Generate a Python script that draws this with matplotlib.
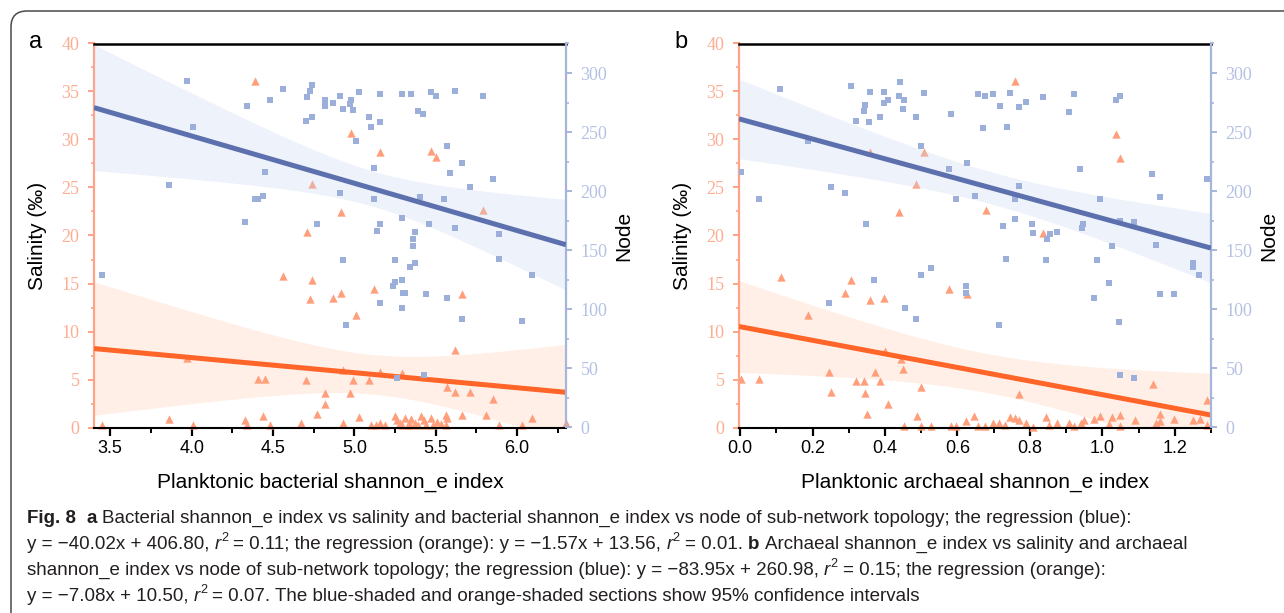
import numpy as np
import matplotlib
matplotlib.use("Agg")
import matplotlib.pyplot as plt
from matplotlib import font_manager
from matplotlib.patches import FancyBboxPatch
from matplotlib.transforms import IdentityTransform
from matplotlib.ticker import MultipleLocator, FormatStrFormatter

# ---- data ----
# panel a: planktonic bacterial shannon_e index
bac_sal_x = [4.39, 4.74, 4.71, 4.56, 4.74, 4.73, 4.87, 3.97, 4.41, 4.45,
             4.70, 4.82, 4.82, 4.77, 4.44, 3.86, 4.33, 3.45, 4.01, 4.34,
             4.48, 4.67, 4.93, 5.03, 4.98, 5.16, 5.47, 5.50, 4.92, 5.79,
             4.92, 5.12, 5.01, 5.66, 5.62, 4.93, 4.99, 5.09, 5.16, 5.29,
             4.97, 5.57, 5.62, 5.71, 5.85, 5.10, 5.13, 5.16, 5.19, 5.25,
             5.26, 5.28, 5.29, 5.31, 5.33, 5.34, 5.35, 5.37, 5.39, 5.41,
             5.43, 5.44, 5.47, 5.48, 5.51, 5.53, 5.56, 5.56, 5.57, 5.66,
             5.81, 5.89, 6.03, 6.09, 6.30]
bac_sal_y = [36.1, 25.4, 20.4, 15.8, 15.4, 13.4, 13.5, 7.2, 5.1, 5.1,
             4.9, 3.6, 2.45, 1.4, 1.25, 0.85, 0.8, 0.25, 0.25, 0.25,
             0.25, 0.5, 0.5, 1.1, 30.7, 28.7, 28.8, 28.2, 22.4, 22.7,
             14.0, 14.4, 11.7, 13.9, 8.1, 6.0, 4.9, 4.9, 5.8, 5.7,
             3.55, 4.25, 3.7, 3.65, 2.95, 0.25, 0.25, 0.5, 0.25, 1.2,
             0.8, 0.5, 0.25, 1.0, 0.3, 0.25, 0.9, 0.5, 0.25, 1.2,
             0.8, 0.3, 1.0, 0.25, 0.6, 0.4, 0.3, 1.3, 0.95, 1.3,
             1.3, 0.25, 0.25, 0.95, 0.5]
bac_node_x = [3.97, 4.01, 3.86, 4.34, 4.48, 4.56, 4.71, 4.73, 4.74, 4.82,
              4.82, 4.87, 4.91, 4.70, 4.74, 4.45, 4.39, 4.41, 4.44, 4.33,
              4.77, 4.91, 3.45, 4.93, 4.97, 4.98, 4.99, 5.03, 5.09, 5.10,
              5.16, 5.16, 5.01, 5.29, 5.35, 5.39, 5.42, 5.47, 5.50, 5.62,
              5.79, 5.57, 5.66, 5.59, 5.12, 5.71, 5.85, 5.12, 5.40, 5.55,
              5.29, 5.16, 5.14, 5.46, 5.62, 5.89, 5.37, 5.36, 5.36, 4.93,
              5.25, 5.37, 5.34, 5.89, 6.09, 5.29, 5.25, 5.24, 5.31, 5.30,
              5.44, 5.57, 5.16, 5.29, 5.66, 6.03, 4.95, 5.26, 5.43]
bac_node_y = [292.9, 254.2, 205.3, 272.5, 277.4, 286.7, 279.7, 284.4, 289.5, 277.4,
              271.7, 274.6, 280.8, 259.6, 263.2, 216.1, 193.2, 193.2, 196.3, 174.2,
              172.3, 198.8, 129.1, 269.5, 273.7, 277.4, 268.3, 283.6, 263.2, 254.2,
              282.5, 258.5, 242.6, 282.5, 282.5, 267.5, 265.5, 283.6, 280.8, 284.4,
              280.8, 238.4, 224.2, 215.3, 219.5, 203.9, 210.2, 193.2, 194.9, 193.2,
              177.1, 172.3, 166.4, 172.3, 169.2, 164.1, 165.3, 159.6, 153.9, 141.8,
              141.8, 139.0, 135.6, 142.6, 129.1, 124.8, 122.9, 120.0, 114.1, 113.6,
              113.2, 109.8, 105.1, 100.8, 92.0, 89.8, 86.7, 42.0, 44.6]

# panel b: planktonic archaeal shannon_e index
arc_sal_x = [0.358, 0.508, 0.487, 0.438, 0.679, 0.758, 1.039, 1.048, 0.837, 0.112,
             0.188, 0.305, 0.289, 0.359, 0.398, 0.577, 0.626, 0.399, 0.443, 0.003,
             0.053, 0.246, 0.372, 0.449, 0.320, 0.342, 0.385, 0.251, 0.344, 0.499,
             0.409, 0.349, 0.488, 0.647, 0.625, 0.452, 0.499, 0.528, 0.581, 0.597,
             0.657, 0.675, 0.770, 1.139, 1.288, 0.698, 0.716, 0.730, 0.744, 0.758,
             0.771, 0.790, 0.808, 0.845, 0.854, 0.875, 0.909, 0.923, 0.941, 0.950,
             0.978, 0.994, 1.019, 1.028, 1.049, 1.049, 1.089, 1.148, 1.159, 1.159,
             1.198, 1.249, 1.269, 1.290]
arc_sal_y = [28.7, 28.7, 25.4, 22.4, 22.7, 36.1, 30.6, 28.1, 20.3, 15.7,
             11.7, 15.4, 14.0, 13.3, 13.5, 14.4, 13.9, 8.0, 7.1, 5.05,
             5.1, 5.8, 5.75, 6.05, 4.85, 4.85, 4.85, 3.65, 3.55, 4.25,
             2.45, 1.4, 1.25, 1.25, 0.7, 0.2, 0.2, 0.2, 0.2, 0.2,
             0.2, 0.2, 3.5, 4.55, 2.85, 0.45, 0.45, 0.25, 1.05, 0.95,
             0.8, 0.45, 0.1, 1.1, 0.25, 0.5, 0.5, 0.2, 0.45, 0.8,
             0.9, 1.25, 0.35, 1.1, 1.3, 0.2, 0.8, 0.5, 1.4, 0.7,
             0.85, 0.8, 0.85, 0.25]
arc_node_x = [0.110, 0.003, 0.053, 0.188, 0.251, 0.289, 0.305, 0.319, 0.342, 0.344,
              0.358, 0.357, 0.385, 0.398, 0.398, 0.409, 0.438, 0.442, 0.452, 0.449,
              0.487, 0.508, 0.499, 0.582, 0.577, 0.626, 0.596, 0.648, 0.658, 0.675,
              0.670, 0.348, 0.697, 0.718, 0.746, 0.770, 0.788, 0.738, 0.837, 0.922,
              0.909, 1.039, 1.048, 0.939, 1.138, 1.288, 0.770, 0.758, 0.994, 1.158,
              0.726, 0.758, 0.805, 0.808, 0.856, 0.874, 0.847, 0.948, 0.943, 1.049,
              1.088, 1.027, 1.149, 0.733, 0.845, 0.984, 1.249, 1.249, 1.268, 1.018,
              0.978, 1.158, 1.198, 0.716, 1.047, 1.048, 1.088, 0.246, 0.371, 0.455,
              0.487, 0.499, 0.528, 0.625, 0.625]
arc_node_y = [286.4, 216.1, 193.2, 242.6, 203.9, 198.8, 289.2, 259.3, 268.1, 273.1,
              284.2, 258.5, 263.0, 284.2, 274.6, 277.1, 280.2, 292.4, 277.1, 269.2,
              263.0, 283.1, 238.1, 265.3, 218.9, 224.0, 193.2, 195.8, 282.2, 280.2,
              253.9, 172.0, 282.2, 272.3, 283.1, 271.2, 275.9, 254.2, 279.3, 282.2,
              267.2, 276.8, 280.2, 218.9, 214.9, 210.2, 204.7, 193.2, 193.2, 194.9,
              170.8, 176.5, 172.0, 164.9, 163.8, 165.8, 159.6, 172.0, 168.6, 174.8,
              173.7, 153.9, 154.7, 142.6, 141.5, 141.5, 139.0, 135.6, 128.8, 122.5,
              109.6, 113.0, 113.0, 86.4, 89.5, 44.3, 41.5, 105.1, 124.6, 100.8,
              91.8, 129.1, 134.7, 119.7, 114.1]

# regression coefficients from the caption (slope, intercept)
bac_node_fit = (-40.02, 406.80)
bac_sal_fit = (-1.57, 13.56)
arc_node_fit = (-83.95, 260.98)
arc_sal_fit = (-7.08, 10.50)

caption_lines = [
    [("Fig. 8", "b"), ("  ", ""), ("a", "b"),
     (" Bacterial shannon_e index vs salinity and bacterial shannon_e index vs node of sub-network topology; the regression (blue):", "")],
    [("y = \u221240.02x + 406.80, ", ""), ("r", "i"), ("2", "sup"),
     (" = 0.11; the regression (orange): y = \u22121.57x + 13.56, ", ""), ("r", "i"), ("2", "sup"),
     (" = 0.01. ", ""), ("b", "b"), (" Archaeal shannon_e index vs salinity and archaeal", "")],
    [("shannon_e index vs node of sub-network topology; the regression (blue): y = \u221283.95x + 260.98, ", ""),
     ("r", "i"), ("2", "sup"), (" = 0.15; the regression (orange):", "")],
    [("y = \u22127.08x + 10.50, ", ""), ("r", "i"), ("2", "sup"),
     (" = 0.07. The blue-shaded and orange-shaded sections show 95% confidence intervals", "")],
]

# ---- style ----
W, H = 1284, 613
SAL_C = "#ffa286"
SAL_TXT = "#fcae94"
NODE_C = "#a6b5dc"
NODE_TXT = "#b4c1e3"
TRI_C = "#ff9f7c"
SQ_C = "#9cafdb"
BLUE_LINE = "#5d70ae"
ORANGE_LINE = "#ff6428"

installed = {f.name for f in font_manager.fontManager.ttflist}
SANS = "Liberation Sans" if "Liberation Sans" in installed else "DejaVu Sans"
SERIF = "Liberation Serif" if "Liberation Serif" in installed else "DejaVu Serif"
CAP_FONT = "Liberation Sans Narrow" if "Liberation Sans Narrow" in installed else SANS

fig = plt.figure(figsize=(W / 100, H / 100), dpi=100)
fig.patch.set_facecolor("white")

# outer rounded frame
fig.patches.append(FancyBboxPatch((11, -40), 1300, 40 + H - 11,
                                  boxstyle="round,pad=0,rounding_size=16",
                                  transform=IdentityTransform(), fill=False,
                                  ec="#4a4a4a", lw=1.1, zorder=0))


def ci_band(x, y, fit, xs, t=1.99):
    x = np.asarray(x)
    y = np.asarray(y)
    n = len(x)
    slope, icpt = fit
    resid = y - (slope * x + icpt)
    s = np.sqrt(np.sum(resid ** 2) / (n - 2))
    sxx = np.sum((x - x.mean()) ** 2)
    half = t * s * np.sqrt(1.0 / n + (xs - x.mean()) ** 2 / sxx)
    yhat = slope * xs + icpt
    return yhat - half, yhat + half


def panel(left_px, xlim, xmaj, xmin, xlabel, letter,
          sal_x, sal_y, node_x, node_y, sal_fit, node_fit):
    rect = [left_px / W, 1 - 427.5 / H, 472 / W, 384 / H]
    ax = fig.add_axes(rect)
    ax2 = ax.twinx()
    ax.set_xlim(*xlim)
    ax.set_ylim(0, 40)
    ax2.set_ylim(0, 325)

    xs = np.linspace(xlim[0], xlim[1], 200)
    lo, hi = ci_band(sal_x, sal_y, sal_fit, xs)
    ax.fill_between(xs, lo, hi, color="#ffccb0", alpha=0.3, lw=0, zorder=1)
    ax.scatter(sal_x, sal_y, marker="^", s=36, color=TRI_C, lw=0, zorder=2, clip_on=False)
    ax.plot(xs, sal_fit[0] * xs + sal_fit[1], color=ORANGE_LINE, lw=3.6, zorder=3,
            solid_capstyle="butt")

    lo, hi = ci_band(node_x, node_y, node_fit, xs)
    ax2.fill_between(xs, lo, hi, color="#c9d6f2", alpha=0.3, lw=0, zorder=1)
    ax2.scatter(node_x, node_y, marker="s", s=20, color=SQ_C, lw=0, zorder=2)
    ax2.plot(xs, node_fit[0] * xs + node_fit[1], color=BLUE_LINE, lw=3.6, zorder=3,
             solid_capstyle="butt")

    # spines
    ax.spines["right"].set_visible(False)
    for sp in ("left", "top", "bottom"):
        ax2.spines[sp].set_visible(False)
    ax.spines["top"].set_color("black")
    ax.spines["top"].set_linewidth(1.8)
    ax.spines["bottom"].set_color("black")
    ax.spines["bottom"].set_linewidth(1.5)
    ax.spines["left"].set_color(SAL_C)
    ax.spines["left"].set_linewidth(1.6)
    ax2.spines["right"].set_color(NODE_C)
    ax2.spines["right"].set_linewidth(1.6)

    # ticks
    ax.xaxis.set_major_locator(MultipleLocator(xmaj))
    ax.xaxis.set_minor_locator(MultipleLocator(xmin))
    ax.xaxis.set_major_formatter(FormatStrFormatter("%.1f"))
    ax.tick_params(axis="x", which="major", length=6, width=1.6, color="black",
                   labelsize=13, pad=3, labelfontfamily=SANS)
    ax.tick_params(axis="x", which="minor", length=3.5, width=1.4, color="black")

    ax.yaxis.set_major_locator(MultipleLocator(5))
    ax.yaxis.set_minor_locator(MultipleLocator(2.5))
    ax.tick_params(axis="y", which="major", length=4.5, width=1.4, color=SAL_C,
                   labelcolor=SAL_TXT, labelsize=13, pad=6, labelfontfamily=SERIF)
    ax.tick_params(axis="y", which="minor", length=2.5, width=1.2, color=SAL_C)

    ax2.yaxis.set_major_locator(MultipleLocator(50))
    ax2.yaxis.set_minor_locator(MultipleLocator(25))
    ax2.tick_params(axis="y", which="major", length=4.5, width=1.4, color=NODE_C,
                    labelcolor=NODE_TXT, labelsize=13, pad=6, labelfontfamily=SERIF)
    ax2.tick_params(axis="y", which="minor", length=2.5, width=1.2, color=NODE_C)

    ax.set_xlabel(xlabel, fontsize=15, family=SANS, labelpad=11)
    ax.set_ylabel("Salinity (\u2030)", fontsize=15, family=SANS, labelpad=10)
    ax2.set_ylabel("Node", fontsize=15, family=SANS, labelpad=5)

    fig.text((left_px - 58) / W, 1 - 48 / H, letter, fontsize=17, family=SANS,
             ha="center", va="baseline")
    return ax, ax2


panel(94, (3.4, 6.3), 0.5, 0.25, "Planktonic bacterial shannon_e index", "a",
      bac_sal_x, bac_sal_y, bac_node_x, bac_node_y, bac_sal_fit, bac_node_fit)
panel(739, (-0.003, 1.3), 0.2, 0.1, "Planktonic archaeal shannon_e index", "b",
      arc_sal_x, arc_sal_y, arc_node_x, arc_node_y, arc_sal_fit, arc_node_fit)

# ---- caption with mixed styles ----
renderer = fig.canvas.get_renderer()


def text_width(s, **kw):
    t = fig.text(0, 0, "|" + s + "|", **kw)
    w1 = t.get_window_extent(renderer).width
    t.remove()
    t = fig.text(0, 0, "||", **kw)
    w0 = t.get_window_extent(renderer).width
    t.remove()
    return w1 - w0


def run_props(style, size):
    kw = dict(fontsize=size, family=CAP_FONT, color="#231f20")
    if style == "b":
        kw["weight"] = "bold"
    elif style == "i":
        kw["style"] = "italic"
    elif style == "sup":
        kw["fontsize"] = size * 0.68
    return kw


def line_width(runs, size):
    return sum(text_width(s, **run_props(st, size)) for s, st in runs)


# pick a size so that the first caption line spans its width in the original
cap_size = 12.0 * 1109 / line_width(caption_lines[0], 12.0)

space_w = text_width(" ", **run_props("", cap_size))
y_base = 523
for runs in caption_lines:
    x = 27.0
    for s, st in runs:
        kw = run_props(st, cap_size)
        core = s.strip(" ")
        if not core:
            x += len(s) * space_w
            continue
        lead = len(s) - len(s.lstrip(" "))
        trail = len(s) - len(s.rstrip(" "))
        x += lead * space_w
        yb = y_base - (cap_size * 1.389 * 0.42 if st == "sup" else 0)
        fig.text(x / W, 1 - yb / H, core, ha="left", va="baseline", **kw)
        x += text_width(core, **kw) + trail * space_w
    y_base += 26

fig.savefig("out.png", dpi=100)
